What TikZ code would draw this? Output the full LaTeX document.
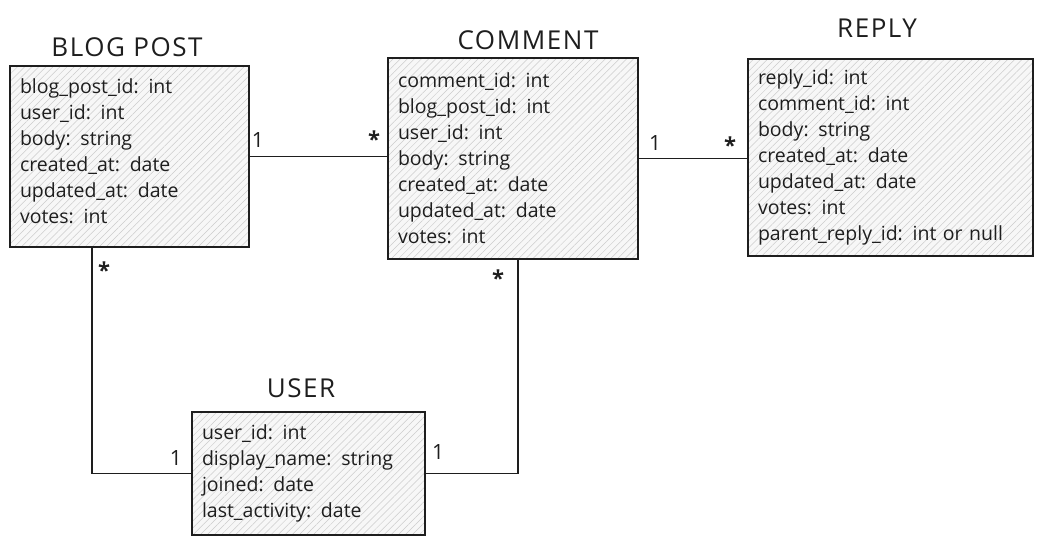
\documentclass[tikz,border=0pt]{standalone}
\usepackage{fontspec}
\setmainfont{Open Sans}
\usetikzlibrary{patterns.meta}
\definecolor{ink}{HTML}{1E1E1E}
\tikzset{
  entity/.style={draw=ink, line width=1.4pt,
    preaction={fill=gray!6},
    preaction={pattern={Lines[angle=45,distance=5pt,line width=0.5pt]}, pattern color=gray!40},
    inner xsep=10pt, inner ysep=0pt, align=left, anchor=center,
    font=\fontsize{19.5}{26}\selectfont, text=ink},
  etitle/.style={font=\fontsize{26}{28}\selectfont\addfontfeature{LetterSpace=6}, text=ink},
  rel/.style={draw=ink, line width=1.3pt},
  mult/.style={font=\fontsize{21}{22}\selectfont, text=ink, inner sep=0pt},
  star/.style={mult, font=\fontsize{22}{22}\selectfont\bfseries},
}
\begin{document}
\begin{tikzpicture}[x=1pt,y=1pt]
\useasboundingbox (0,0) rectangle (1042,-544);

\node[entity, text width=219pt, minimum height=181pt] (blog) at (129.5,-156.5)
 {blog\_post\_id: int\\user\_id: int\\body: string\\created\_at: date\\updated\_at: date\\votes: int\par\vspace*{11pt}};
\node[etitle] (blogt) at (127,-47) {BLOG POST};

\node[entity, text width=230pt, minimum height=201pt] (comment) at (513,-158.5)
 {comment\_id: int\\blog\_post\_id: int\\user\_id: int\\body: string\\created\_at: date\\updated\_at: date\\votes: int};
\node[etitle] (commentt) at (528,-40) {COMMENT};

\node[entity, text width=265pt, minimum height=197pt] (reply) at (890.5,-157.5)
 {reply\_id: int\\comment\_id: int\\body: string\\created\_at: date\\updated\_at: date\\votes: int\\parent\_reply\_id: int or null};
\node[etitle] (replyt) at (877,-28) {REPLY};

\node[entity, text width=213pt, minimum height=123pt] (user) at (308.5,-473.5)
 {user\_id: int\\display\_name: string\\joined: date\\last\_activity: date};
\node[etitle] (usert) at (301,-388) {USER};

\draw[rel] (blog.east) -- (blog.east -| comment.west);
\draw[rel] (comment.east) -- (comment.east -| reply.west);
\draw[rel] ([xshift=-37.5pt]blog.south) |- (user.west);
\draw[rel] ([xshift=5pt]comment.south) |- (user.east);

\node[mult] (m1) at (258,-140) {1};
\node[star] (m2) at (374,-139) {*};
\node[mult] (m3) at (655,-143) {1};
\node[star] (m4) at (730,-145) {*};
\node[star] (m5) at (104,-270) {*};
\node[mult] (m6) at (176,-458) {1};
\node[star] (m7) at (498,-278) {*};
\node[mult] (m8) at (438,-452) {1};
\end{tikzpicture}
\end{document}
